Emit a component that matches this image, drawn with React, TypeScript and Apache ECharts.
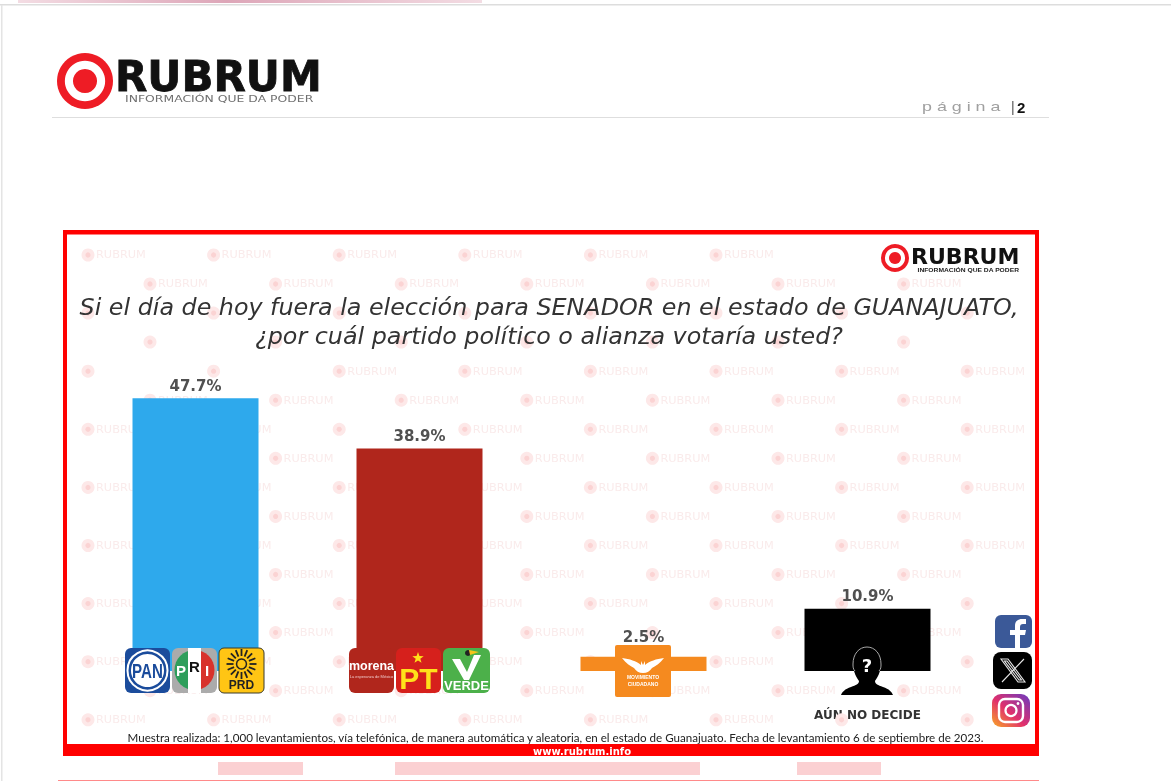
import React, { useEffect, useRef } from "react";
import * as echarts from "echarts";

const categories = ["PAN-PRI-PRD", "Morena-PT-Verde", "Movimiento Ciudadano", "Aún no decide"];
const values = [47.7, 38.9, 2.5, 10.9];
const barColors = ["#2EA9EC", "#B0261C", "#F58A1F", "#000000"];
const axisLabels = ["", "", "", "AÚN NO DECIDE"];
const titleLines = [
  "Si el día de hoy fuera la elección para SENADOR en el estado de GUANAJUATO,",
  "¿por cuál partido político o alianza votaría usted?",
];
const footnote = "Muestra realizada: 1,000 levantamientos, vía telefónica, de manera automática y aleatoria, en el estado de Guanajuato. Fecha de levantamiento 6 de septiembre de 2023.";

echarts.graphic.registerShape("person", echarts.graphic.extendPath(
  "M853 664 C853 654 859 647 867 647 C875 647 881 654 881 664 C881 672 877 678 875 681 C875 684 878 685 883 687 C889 689 892 692 893 695 L841 695 C842 692 845 689 851 687 C856 685 859 684 859 681 C857 678 853 672 853 664 Z", {}));
echarts.graphic.registerShape("head", echarts.graphic.extendPath(
  "M855 671 C853 669 853 667 853 664 C853 654 859 647 867 647 C875 647 881 654 881 664 C881 667 881 669 879 671", {}));
echarts.graphic.registerShape("wing", echarts.graphic.extendPath(
  "M622 658 C630 659 636 661 641 665 L641 661 L643 665 L645 661 L645 665 C650 661 656 659 664 658 C660 663 656 666 652 668 C650 671 647 673 643 673 C639 673 636 671 634 668 C630 666 626 663 622 658 Z", {}));
echarts.graphic.registerShape("xlogo", echarts.graphic.extendPath(
  "M1001 659 L1008 659 L1025 682 L1018 682 Z M1024 659 L1002 682 M1004.5 661 L1007 661 L1021.5 680 L1019 680 Z", {}));
echarts.graphic.registerShape("fbf", echarts.graphic.extendPath(
  "M1015 648 L1015 635 L1010 635 L1010 630 L1015 630 L1015 626 C1015 621 1018 619 1022 619 L1026 619 L1026 624 L1023 624 C1021 624 1020 625 1020 627 L1020 630 L1026 630 L1025 635 L1020 635 L1020 648 Z", {}));

const MONO = "DejaVu Sans";
const ARIAL = "Liberation Sans";

function rect(x: number, y: number, w: number, h: number, fill: any, z = 5, r: any = 0, extra: any = {}) {
  return { type: "rect", z, silent: true, shape: { x, y, width: w, height: h, r }, style: { fill, ...extra } };
}
function text(x: number, y: number, t: string, font: string, size: number, fill: string, weight: any = "normal", align = "center", z = 11, scaleX = 1, extra: any = {}) {
  return { type: "text", z, silent: true, x, y, scaleX, style: { text: t, fontFamily: font, fontSize: size, fontWeight: weight, fill, align, verticalAlign: "middle", ...extra } };
}
function circle(cx: number, cy: number, r: number, fill: any, z = 11, stroke?: string, lineWidth = 0) {
  return { type: "circle", z, silent: true, shape: { cx, cy, r }, style: { fill, stroke, lineWidth } };
}
function target(cx: number, cy: number, r: number, z: number) {
  return [
    circle(cx, cy, r, "#EE1C25", z),
    circle(cx, cy, r * 0.72, "#FFFFFF", z),
    circle(cx, cy, r * 0.43, "#EE1C25", z),
  ];
}

function watermark() {
  const out: any[] = [];
  const stepX = 125.6;
  const stepY = 58.1;
  const keepClear = [
    [70, 292, 1030, 354],
    [150, 376, 240, 394],
    [370, 426, 450, 444],
    [615, 628, 672, 646],
    [830, 586, 905, 604],
    [805, 706, 930, 724],
  ];
  const clear = (x: number, y: number) =>
    !keepClear.some(([a, b, c, d]) => x + 8 < c && x + 66 > a && y - 5 < d && y + 5 > b);
  const stamp = (x: number, y: number, withText: boolean) => {
    out.push(circle(x, y, 6.5, "#FDE8E8", 1));
    out.push(circle(x, y, 2.6, "#FBD3D3", 1));
    if (withText && clear(x, y)) out.push(text(x + 8, y, "RUBRUM", MONO, 10.5, "#FAEBEB", "normal", "left", 1, 1.08));
  };
  for (let j = 0; j < 9; j++) {
    const y = 255 + j * stepY;
    for (let i = 0; i < 8; i++) {
      const x = 88 + i * stepX;
      if (j === 0 && i > 5) continue;
      stamp(x, y, !(i === 7 && j >= 6));
    }
  }
  for (let j = 0; j < 8; j++) {
    const y = 284 + j * stepY;
    for (let i = 0; i < 7; i++) stamp(150 + i * stepX, y, true);
  }
  return out;
}

function partyLogos() {
  const top = 648, h = 45;
  const out: any[] = [];
  // PAN
  out.push(rect(125, top, 45, h, "#1B4C9C", 10, 6));
  out.push(circle(147.5, 670.5, 20, "#1B4C9C", 11, "#FFFFFF", 2));
  out.push(circle(147.5, 670.5, 16.5, "#FFFFFF", 11));
  out.push(text(147.5, 671, "PAN", ARIAL, 21, "#1B4C9C", "bold", "center", 12, 0.72));
  // PRI
  out.push(rect(172, top, 45, h, "#ABABAB", 10, 6));
  out.push({ type: "sector", z: 11, silent: true, shape: { cx: 194.5, cy: 670, r: 20, r0: 0, startAngle: Math.PI / 2, endAngle: (3 * Math.PI) / 2 }, style: { fill: "#2E9E5B" } });
  out.push({ type: "sector", z: 11, silent: true, shape: { cx: 194.5, cy: 670, r: 20, r0: 0, startAngle: -Math.PI / 2, endAngle: Math.PI / 2 }, style: { fill: "#D8322C" } });
  out.push(rect(188, top, 13, 45, "#FFFFFF", 11));
  out.push(text(181, 670, "P", ARIAL, 15, "#FFFFFF", "bold", "center", 12));
  out.push(text(194.5, 666, "R", ARIAL, 15, "#111111", "bold", "center", 12));
  out.push(text(207, 670, "I", ARIAL, 15, "#FFFFFF", "bold", "center", 12));
  // PRD
  out.push(rect(219, top, 45, h, "#FFC514", 10, 5, { stroke: "#3a3a2a", lineWidth: 1 }));
  for (let i = 0; i < 16; i++) {
    const a = (i * Math.PI) / 8;
    out.push({ type: "line", z: 11, silent: true, shape: { x1: 241.5 + 8 * Math.cos(a), y1: 664 + 8 * Math.sin(a), x2: 241.5 + 15 * Math.cos(a), y2: 664 + 15 * Math.sin(a) }, style: { stroke: "#222", lineWidth: 1.8 } });
  }
  out.push(circle(241.5, 664, 5, "#FFC514", 11, "#222", 1.5));
  out.push(text(241.5, 685, "PRD", ARIAL, 12, "#222", "bold", "center", 12));
  // morena
  out.push(rect(349, top, 45, h, "#B0261C", 10, 6));
  out.push(text(371.5, 666, "morena", ARIAL, 12.5, "#FFFFFF", "bold"));
  out.push(text(371.5, 676, "La esperanza de México", ARIAL, 4, "#F0C8C8"));
  // PT
  out.push(rect(396, top, 45, h, "#D6201C", 10, 6));
  out.push({ type: "polygon", z: 11, silent: true, shape: { points: Array.from({ length: 10 }, (_, i) => {
    const r = i % 2 ? 2.4 : 6;
    const a = -Math.PI / 2 + (i * Math.PI) / 5;
    return [418 + r * Math.cos(a), 658 + r * Math.sin(a)];
  }) }, style: { fill: "#FFE11A" } });
  out.push(text(418.5, 678, "PT", ARIAL, 30, "#FFE11A", "bold"));
  // VERDE
  out.push(rect(443, top, 47, h, "#4CB04A", 10, 6));
  out.push({ type: "polygon", z: 11, silent: true, shape: { points: [[452, 659], [460, 659], [467, 672], [474, 655], [481, 655], [469, 680], [464, 680]] }, style: { fill: "#FFFFFF" } });
  out.push(circle(468, 653, 3, "#222222", 12));
  out.push({ type: "polygon", z: 12, silent: true, shape: { points: [[469, 650], [479, 652], [470, 655]] }, style: { fill: "#F5C518" } });
  out.push(text(466.5, 685, "VERDE", ARIAL, 13, "#FFFFFF", "bold", "center", 13));
  // Movimiento Ciudadano
  out.push(rect(615, 645, 56, 52, "#F58A1F", 10, 2));
  out.push({ type: "wing", z: 11, silent: true, style: { fill: "#FFFFFF" } });
  out.push(text(643, 677, "MOVIMIENTO", ARIAL, 5, "#FFFFFF", "bold"));
  out.push(text(643, 683.5, "CIUDADANO", ARIAL, 5, "#FFFFFF", "bold"));
  // Aún no decide
  out.push({ type: "person", z: 11, silent: true, style: { fill: "#000000" } });
  out.push({ type: "head", z: 12, silent: true, style: { fill: "none", stroke: "#A8A8A8", lineWidth: 1 } });
  out.push(text(867, 665, "?", MONO, 18, "#FFFFFF", "bold", "center", 13));
  return out;
}

function social() {
  const ig = new echarts.graphic.LinearGradient(0, 1, 1, 0, [
    { offset: 0, color: "#F9A825" },
    { offset: 0.45, color: "#E1306C" },
    { offset: 1, color: "#6A3BC0" },
  ]);
  return [
    rect(995, 615, 37, 33, "#3B5998", 10, 6),
    { type: "fbf", z: 11, silent: true, style: { fill: "#FFFFFF" } },
    rect(993, 652, 39, 37, "#000000", 10, 8),
    { type: "xlogo", z: 11, silent: true, style: { fill: "none", stroke: "#E8E8E8", lineWidth: 1.1 } },
    rect(992, 694, 38, 33, ig, 10, 9),
    rect(999, 699, 24, 23, "none", 11, 6, { stroke: "#FFFFFF", lineWidth: 2.4 }),
    circle(1011, 710.5, 5.5, "none", 11, "#FFFFFF", 2.2),
    circle(1018, 703.5, 1.4, "#FFFFFF", 11),
  ];
}

function pageFurniture() {
  return [
    rect(18, 0, 464, 3, new echarts.graphic.LinearGradient(0, 0, 1, 0, [
      { offset: 0, color: "#F3DCE3" },
      { offset: 0.45, color: "#DDA6B8" },
      { offset: 1, color: "#F3DCE3" },
    ]), 1),
    rect(0, 4, 1171, 1.5, "#DDDDDD", 1),
    rect(1, 5, 1.5, 776, "#E4E4E4", 1),
    rect(52, 117, 997, 1, "#DEDEDE", 1),
    ...target(85, 81, 28, 5),
    text(115, 76, "RUBRUM", MONO, 42, "#111111", "bold", "left", 5, 1, { stroke: "#111111", lineWidth: 0.8 }),
    text(125, 99, "INFORMACIÓN QUE DA PODER", MONO, 9, "#707070", "normal", "left", 5, 1.38),
    text(922, 107, "p á g i n a", ARIAL, 12.5, "#A0A0A0", "normal", "left", 5, 1.43),
    text(1011, 107, "|", ARIAL, 14, "#555555", "normal", "left", 5),
    text(1017, 107, "2", ARIAL, 15, "#111111", "bold", "left", 5),
    // frame
    rect(63, 230, 976, 4.5, "#FF0000", 20),
    rect(63, 230, 4, 526, "#FF0000", 20),
    rect(1035, 230, 4, 526, "#FF0000", 20),
    rect(63, 744, 976, 12, "#FF0000", 20),
    text(582, 751, "www.rubrum.info", MONO, 10, "#FFFFFF", "bold", "center", 21),
    ...target(895, 258, 14, 5),
    text(911, 256.5, "RUBRUM", MONO, 21, "#111111", "bold", "left", 5, 1.05),
    text(1019, 270.5, "INFORMACIÓN QUE DA PODER", ARIAL, 5.2, "#222222", "bold", "right", 5, 1.29),
    text(555.5, 737, footnote, "Lato", 11.6, "#222222", "normal", "center", 6),
    rect(218, 762, 85, 13, "#FBD0D2", 1),
    rect(395, 762, 305, 13, "#FBD0D2", 1),
    rect(797, 762, 84, 13, "#FBD0D2", 1),
    rect(58, 780, 981, 1, "#FF8A8A", 1),
  ];
}

export default function App() {
  const ref = useRef<HTMLDivElement>(null);
  useEffect(() => {
    const chart = echarts.init(ref.current!, undefined, { renderer: "svg" });
    chart.setOption({
      animation: false,
      backgroundColor: "#FFFFFF",
      title: {
        text: titleLines.join("\n"),
        left: 544,
        top: 287,
        textAlign: "center",
        textStyle: { fontFamily: "DejaVu Sans", fontStyle: "italic", fontWeight: "normal", fontSize: 23.8, lineHeight: 29, color: "#333333" },
        z: 6,
      },
      grid: { left: 83.5, right: 191.5, top: 385, bottom: 110 },
      xAxis: {
        type: "category",
        data: categories,
        axisLine: { show: false },
        axisTick: { show: false },
        axisLabel: {
          interval: 0,
          margin: 38,
          formatter: (_: string, i: number) => axisLabels[i],
          fontFamily: MONO,
          fontSize: 12,
          fontWeight: "bold",
          color: "#333333",
        },
      },
      yAxis: { type: "value", min: 0, max: 50, show: false, splitLine: { show: false } },
      series: [
        {
          type: "bar",
          barWidth: 126,
          z: 3,
          data: values.map((v, i) => ({
            value: v,
            itemStyle: { color: barColors[i] },
            label: i === 2 ? { offset: [0, -7] } : undefined,
          })),
          label: {
            show: true,
            position: "top",
            distance: 5,
            formatter: (p: any) => `${p.value.toFixed(1)}%`,
            fontFamily: MONO,
            fontSize: 15,
            fontWeight: "bold",
            color: "#505050",
          },
        },
      ],
      graphic: { elements: [...watermark(), ...pageFurniture(), ...partyLogos(), ...social()] },
    });
    return () => chart.dispose();
  }, []);
  return (
    <div
      ref={ref}
      style={{ position: "fixed", left: 0, top: 0, width: 1171, height: 781, filter: "blur(0.5px)" }}
    />
  );
}
